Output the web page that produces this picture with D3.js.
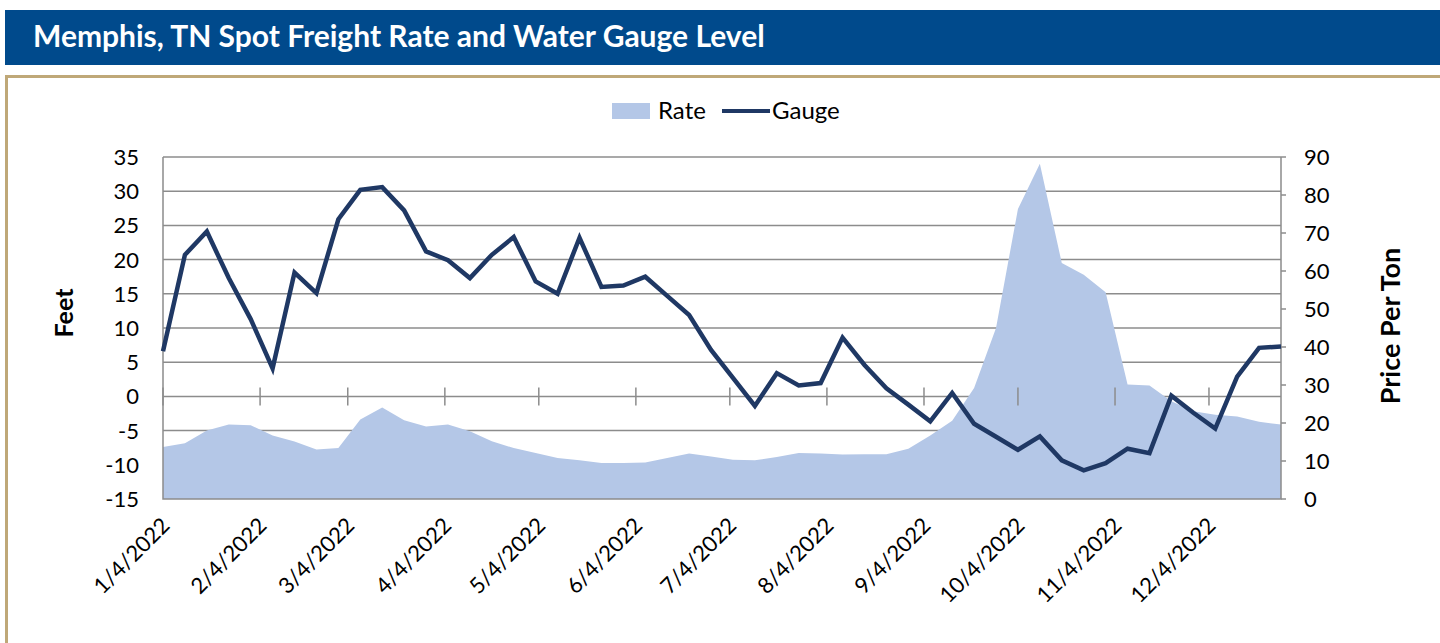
<!DOCTYPE html>
<html>
<head>
<meta charset="utf-8">
<script src="https://cdn.jsdelivr.net/npm/d3@7"></script>
<style>
  body { margin: 0; background: #fff; }
  svg { display: block; font-family: Lato, "Open Sans", sans-serif; }
</style>
</head>
<body>
<svg id="chart" width="1440" height="643"></svg>
<script>
// weekly dates, 1/4/2022 .. 12/27/2022
const start_date = "2022-01-04";
const week_count = 52;

// water gauge (feet, left axis)
const gauge = [
  6.6, 20.7, 24.1, 17.3, 11.3, 4.1, 18.1, 15.1, 25.9, 30.2,
  30.6, 27.2, 21.2, 19.9, 17.3, 20.7, 23.3, 16.8, 15.0, 23.2,
  16.0, 16.2, 17.5, 14.7, 11.9, 6.8, 2.7, -1.4, 3.4, 1.6,
  1.95, 8.6, 4.6, 1.2, -1.2, -3.65, 0.5, -4.0, -5.9, -7.8,
  -5.85, -9.35, -10.8, -9.75, -7.65, -8.3, 0.1, -2.4, -4.7, 2.9,
  7.1, 7.3
];

// spot rate (price per ton, right axis)
const rate = [
  13.7, 14.7, 18.0, 19.6, 19.4, 16.7, 15.1, 13.0, 13.4, 20.9,
  24.1, 20.7, 19.1, 19.6, 17.8, 15.2, 13.4, 12.1, 10.8, 10.2,
  9.5, 9.5, 9.6, 10.8, 12.0, 11.2, 10.3, 10.2, 11.05, 12.1,
  12.0, 11.7, 11.8, 11.8, 13.2, 16.7, 20.6, 29.2, 45.0, 76.3,
  88.2, 62.1, 59.0, 54.4, 30.1, 29.9, 25.7, 23.1, 22.2, 21.7,
  20.3, 19.6
];

const left_ticks = [-15, -10, -5, 0, 5, 10, 15, 20, 25, 30, 35];
const right_ticks = [0, 10, 20, 30, 40, 50, 60, 70, 80, 90];
const month_ticks = ["2022-01-04", "2022-02-04", "2022-03-04", "2022-04-04", "2022-05-04", "2022-06-04",
  "2022-07-04", "2022-08-04", "2022-09-04", "2022-10-04", "2022-11-04", "2022-12-04"];

const title_text = "Memphis, TN Spot Freight Rate and Water Gauge Level";

const parse = d3.utcParse("%Y-%m-%d");
const fmt = d3.utcFormat("%-m/%-d/%Y");
const t0 = parse(start_date);
const dates = d3.range(week_count).map(i => d3.utcDay.offset(t0, i * 7));
const rows = dates.map((d, i) => ({ date: d, gauge: gauge[i], rate: rate[i] }));

const svg = d3.select("#chart");

// title banner
svg.append("rect").attr("x", 5).attr("y", 10).attr("width", 1435).attr("height", 55).attr("fill", "#004a8c");
svg.append("text").text(title_text)
  .attr("x", 33).attr("y", 47)
  .style("font-size", "30px").style("font-weight", "bold").style("fill", "#fff");

// tan frame
svg.append("path").attr("d", "M6.5,643 V76.5 H1440")
  .attr("fill", "none").attr("stroke", "#bfa878").attr("stroke-width", 3);

const m = { left: 163, right: 1281, top: 157, bottom: 499 };

const x = d3.scaleUtc().domain([t0, dates[dates.length - 1]]).range([m.left, m.right]);
const yL = d3.scaleLinear().domain([-15, 35]).range([m.bottom, m.top]);
const yR = d3.scaleLinear().domain([0, 90]).range([m.bottom, m.top]);

// gridlines
svg.append("g").selectAll("line").data(left_ticks.filter(v => v > -15)).join("line")
  .attr("x1", m.left).attr("x2", m.right)
  .attr("y1", d => yL(d)).attr("y2", d => yL(d))
  .attr("stroke", "#8c8c8c").attr("stroke-width", 1.5);

// rate area
svg.append("path").datum(rows)
  .attr("fill", "#b4c7e7")
  .attr("d", d3.area().x(d => x(d.date)).y0(yR(0)).y1(d => yR(d.rate)));

// plot frame
svg.append("path")
  .attr("d", `M${m.left},${m.top} V${m.bottom} H${m.right} V${m.top}`)
  .attr("fill", "none").attr("stroke", "#8c8c8c").attr("stroke-width", 1.5);

// x axis at zero with crossing ticks
const xAxis = svg.append("g").attr("transform", `translate(0,${yL(0)})`);
xAxis.selectAll("line.tick").data(month_ticks.map(parse)).join("line")
  .attr("class", "tick")
  .attr("x1", d => x(d)).attr("x2", d => x(d))
  .attr("y1", -9).attr("y2", 9)
  .attr("stroke", "#8c8c8c").attr("stroke-width", 1.5);

// right axis ticks (outside)
svg.append("g").selectAll("line").data(right_ticks).join("line")
  .attr("x1", m.right).attr("x2", m.right + 5)
  .attr("y1", d => yR(d)).attr("y2", d => yR(d))
  .attr("stroke", "#8c8c8c").attr("stroke-width", 1.5);

// gauge line
svg.append("path").datum(rows)
  .attr("fill", "none").attr("stroke", "#1f3864").attr("stroke-width", 4.5)
  .attr("stroke-linejoin", "miter")
  .attr("d", d3.line().x(d => x(d.date)).y(d => yL(d.gauge)));

// axis labels
svg.append("g").selectAll("text").data(left_ticks).join("text")
  .attr("x", 139).attr("y", d => yL(d) + 8)
  .attr("text-anchor", "end").style("font-size", "22px").style("fill", "#000")
  .text(d => d);

svg.append("g").selectAll("text").data(right_ticks).join("text")
  .attr("x", 1304).attr("y", d => yR(d) + 8)
  .attr("text-anchor", "start").style("font-size", "22px").style("fill", "#000")
  .text(d => d);

svg.append("g").selectAll("text").data(month_ticks.map(parse)).join("text")
  .attr("transform", d => `translate(${x(d) + 8},${m.bottom + 28}) rotate(-45)`)
  .attr("text-anchor", "end").style("font-size", "22px").style("fill", "#000")
  .text(d => fmt(d));

svg.append("text").text("Feet")
  .attr("transform", "translate(73,313) rotate(-90)")
  .attr("text-anchor", "middle").style("font-size", "25px").style("font-weight", "bold");

svg.append("text").text("Price Per Ton")
  .attr("transform", "translate(1400,326) rotate(-90)")
  .attr("text-anchor", "middle").style("font-size", "27px").style("font-weight", "bold");

// legend
const lg = svg.append("g");
lg.append("rect").attr("x", 612).attr("y", 103).attr("width", 38).attr("height", 16).attr("fill", "#b4c7e7");
lg.append("text").text("Rate").attr("x", 658).attr("y", 119).style("font-size", "24px");
lg.append("line").attr("x1", 722).attr("x2", 770).attr("y1", 111).attr("y2", 111)
  .attr("stroke", "#1f3864").attr("stroke-width", 4);
lg.append("text").text("Gauge").attr("x", 772).attr("y", 119).style("font-size", "24px");
</script>
</body>
</html>
